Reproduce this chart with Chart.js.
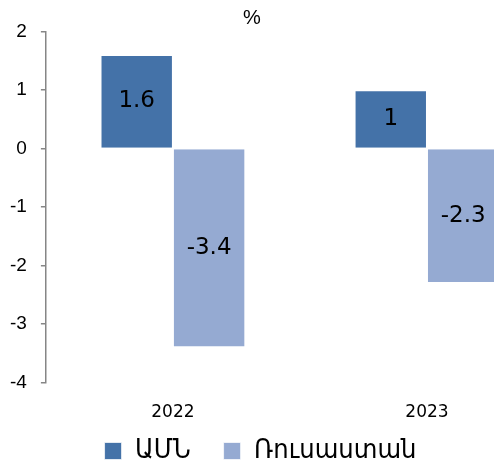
<!DOCTYPE html>
<html>
<head>
<meta charset="utf-8">
<script src="https://cdn.jsdelivr.net/npm/chart.js@4/dist/chart.umd.min.js"></script>
<style>
  html, body { margin: 0; padding: 0; background: #fff; overflow: hidden; }
  #wrap { width: 554px; height: 463px; }
</style>
</head>
<body>
<div id="wrap"><canvas id="myChart" width="554" height="463"></canvas></div>
<script>
// data
const years = ["2022", "2023"];
const usaValues = [1.6, 1];
const russiaValues = [-3.4, -2.3];
const seriesNames = ["ԱՄՆ", "Ռուսաստան"];
const titleText = "%";

// value labels in the middle of each bar
const barLabels = {
  id: "barLabels",
  afterDatasetsDraw(chart) {
    const ctx = chart.ctx;
    ctx.save();
    ctx.font = "23px 'DejaVu Sans'";
    ctx.fillStyle = "#000";
    ctx.textAlign = "center";
    ctx.textBaseline = "middle";
    chart.data.datasets.forEach((ds, i) => {
      chart.getDatasetMeta(i).data.forEach((bar, j) => {
        ctx.fillText(String(ds.data[j]), bar.x, (bar.y + bar.base) / 2);
      });
    });
    ctx.restore();
  }
};

// the original picture is cropped on the right, so move title + legend back to the visible part
// (legend also pulled up a bit so it sits right under the year labels)
const shiftBoxes = {
  id: "shiftBoxes",
  afterLayout(chart) {
    if (chart.legend) {
      const h = chart.legend.height;
      chart.legend.left = 0;
      chart.legend.right = 521;
      chart.legend.top = 404.5;
      chart.legend.bottom = 404.5 + h;
    }
    if (chart.titleBlock) { chart.titleBlock.left = 0; chart.titleBlock.right = 504; }
  }
};

const ctx = document.getElementById("myChart").getContext("2d");
const myChart = new Chart(ctx, {
  type: "bar",
  data: {
    labels: years,
    datasets: [
      {
        label: seriesNames[0],
        data: usaValues,
        backgroundColor: "#4472A8",
        borderColor: "rgba(255,255,255,0.7)",
        borderWidth: 1
      },
      {
        label: seriesNames[1],
        data: russiaValues,
        backgroundColor: "#95AAD2",
        borderColor: "rgba(255,255,255,0.7)",
        borderWidth: 1
      }
    ]
  },
  options: {
    responsive: false,
    animation: false,
    categoryPercentage: 0.57,
    barPercentage: 1,
    layout: { padding: { left: -4, right: 0, top: 0, bottom: -31.3 } },
    plugins: {
      title: {
        display: true,
        text: titleText,
        color: "#000",
        font: { family: "'Liberation Sans'", size: 20, weight: "normal" },
        padding: { top: 6, bottom: 1.7 }
      },
      legend: {
        position: "bottom",
        labels: {
          color: "#000",
          font: { family: "'DejaVu Sans Condensed', 'DejaVu Sans'", size: 27 },
          boxWidth: 17,
          boxHeight: 17,
          padding: 33
        }
      },
      tooltip: { enabled: false }
    },
    scales: {
      x: {
        grid: { display: false, drawTicks: false },
        border: { display: false },
        ticks: {
          color: "#000",
          font: { family: "'DejaVu Sans'", size: 17 },
          padding: 20
        },
        afterFit(scale) { scale.height = 42; }
      },
      y: {
        min: -4,
        max: 2,
        grid: { drawOnChartArea: false, drawTicks: true, tickLength: 5, color: "#868686", lineWidth: 1.5 },
        border: { display: true, color: "#868686", width: 1.5 },
        ticks: {
          stepSize: 1,
          color: "#000",
          font: { family: "'Liberation Sans'", size: 19 },
          padding: 14
        }
      }
    }
  },
  plugins: [barLabels, shiftBoxes]
});
</script>
</body>
</html>
